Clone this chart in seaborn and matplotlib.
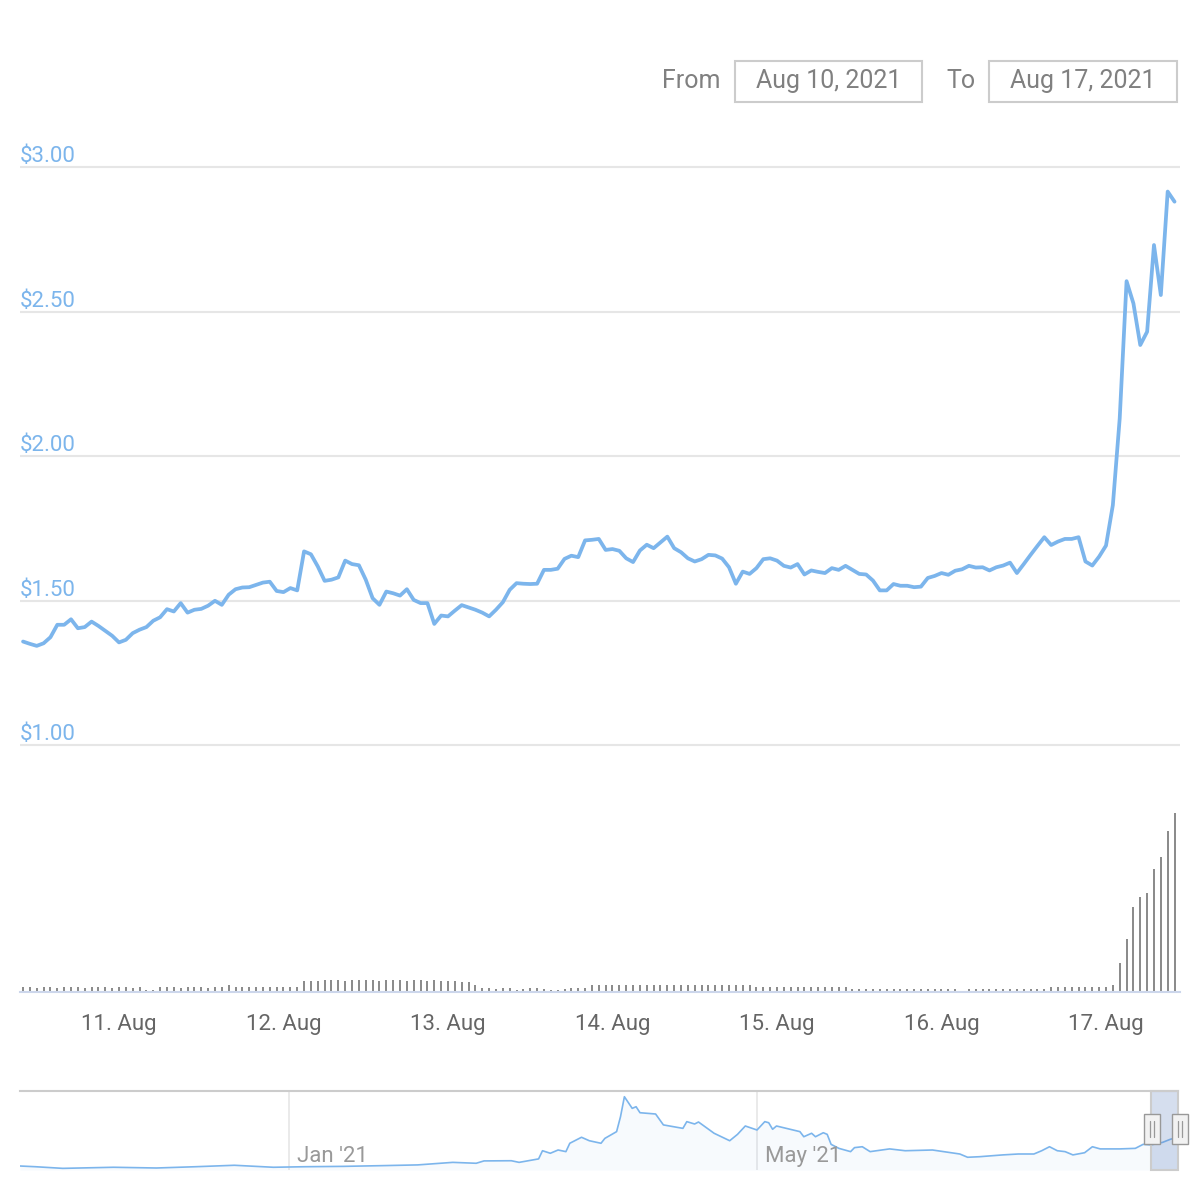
import pandas as pd
import matplotlib
matplotlib.use('Agg')
import matplotlib.pyplot as plt
import matplotlib.dates as mdates
from matplotlib.patches import Rectangle
from matplotlib.lines import Line2D
import seaborn as sns

# --- hourly price, Aug 10 10:00 -> Aug 17 10:00 ---
price = [
    1.358, 1.350, 1.343, 1.352, 1.373, 1.416, 1.416, 1.435, 1.404, 1.408,
    1.427, 1.412, 1.395, 1.378, 1.355, 1.364, 1.387, 1.399, 1.408, 1.430,
    1.442, 1.470, 1.462, 1.491, 1.458, 1.468, 1.471, 1.482, 1.499, 1.485,
    1.520, 1.539, 1.545, 1.546, 1.554, 1.562, 1.565, 1.533, 1.529, 1.543,
    1.535, 1.670, 1.660, 1.618, 1.568, 1.572, 1.580, 1.638, 1.626, 1.622,
    1.572, 1.508, 1.485, 1.531, 1.525, 1.517, 1.539, 1.502, 1.491, 1.491,
    1.419, 1.448, 1.445, 1.465, 1.484, 1.476, 1.468, 1.458, 1.445, 1.468,
    1.494, 1.537, 1.560, 1.558, 1.557, 1.558, 1.606, 1.606, 1.610, 1.644,
    1.655, 1.650, 1.708, 1.710, 1.713, 1.675, 1.678, 1.672, 1.646, 1.633,
    1.673, 1.693, 1.681, 1.701, 1.721, 1.681, 1.667, 1.646, 1.635, 1.643,
    1.658, 1.656, 1.645, 1.615, 1.558, 1.600, 1.592, 1.612, 1.643, 1.646,
    1.638, 1.620, 1.614, 1.626, 1.590, 1.604, 1.599, 1.595, 1.612, 1.606,
    1.620, 1.606, 1.592, 1.590, 1.569, 1.535, 1.535, 1.557, 1.551, 1.551,
    1.546, 1.548, 1.578, 1.585, 1.595, 1.589, 1.603, 1.608, 1.620, 1.614,
    1.615, 1.604, 1.615, 1.621, 1.631, 1.595, 1.626, 1.658, 1.689, 1.719,
    1.692, 1.704, 1.713, 1.713, 1.719, 1.635, 1.621, 1.652, 1.690, 1.830,
    2.130, 2.605, 2.528, 2.384, 2.430, 2.730, 2.557, 2.915, 2.880,
]

# hourly volume (M USD)
volume = (
    [0.50, 0.50, 0.45, 0.50, 0.50, 0.45, 0.50, 0.50, 0.50, 0.45,
     0.50, 0.50, 0.50, 0.45, 0.50, 0.50, 0.45, 0.50]
    + [0.23, 0.23]
    + [0.47, 0.47, 0.47, 0.45, 0.47, 0.47, 0.47, 0.45, 0.47, 0.47]
    + [0.67]
    + [0.55, 0.55, 0.55, 0.55, 0.55, 0.55, 0.55, 0.55, 0.55, 0.55]
    + [1.15, 1.15, 1.15, 1.20, 1.20, 1.20, 1.15, 1.20, 1.20, 1.20,
       1.20, 1.15, 1.20, 1.20, 1.20, 1.15, 1.20, 1.20, 1.15, 1.20,
       1.15, 1.10, 1.10]
    + [1.00, 1.00]
    + [0.70]
    + [0.40, 0.38, 0.35, 0.40, 0.38, 0.23, 0.35, 0.38, 0.40, 0.35,
       0.23, 0.23, 0.35, 0.40, 0.40, 0.45]
    + [0.70, 0.70, 0.70, 0.70, 0.70, 0.70, 0.70, 0.70, 0.70, 0.70,
       0.70, 0.70, 0.70, 0.70, 0.70, 0.70, 0.70, 0.70, 0.70, 0.70,
       0.70, 0.70, 0.70, 0.70]
    + [0.50, 0.50, 0.50, 0.50, 0.50, 0.50, 0.50, 0.50, 0.50, 0.50,
       0.50, 0.50, 0.50, 0.50]
    + [0.27, 0.27, 0.27, 0.27, 0.27, 0.27, 0.27, 0.27, 0.27, 0.27,
       0.27, 0.27, 0.27, 0.27, 0.27, 0.27, 0.15, 0.27, 0.27, 0.27,
       0.27, 0.27, 0.27, 0.27, 0.27, 0.27, 0.27, 0.27, 0.27]
    + [0.50, 0.50, 0.50, 0.50, 0.50, 0.50, 0.50, 0.50, 0.50]
    + [0.70, 2.87, 5.27, 8.47, 9.47, 9.87, 12.27, 13.47, 16.10, 17.87]
)

times = pd.date_range('2021-08-10 10:00', periods=len(price), freq='h')

x_ticks = ['2021-08-11', '2021-08-12', '2021-08-13', '2021-08-14',
           '2021-08-15', '2021-08-16', '2021-08-17']
x_labels = ['11. Aug', '12. Aug', '13. Aug', '14. Aug', '15. Aug', '16. Aug', '17. Aug']
y_ticks = [1.0, 1.5, 2.0, 2.5, 3.0]
y_labels = ['$1.00', '$1.50', '$2.00', '$2.50', '$3.00']

# --- navigator (longer history) ---
nav_dates = [
    '2020-10-24', '2020-10-28', '2020-11-04', '2020-11-17', '2020-11-28', '2020-12-08',
    '2020-12-18', '2020-12-28', '2021-01-05', '2021-01-15', '2021-01-25', '2021-02-03',
    '2021-02-12', '2021-02-18', '2021-02-20', '2021-02-27', '2021-03-01', '2021-03-06',
    '2021-03-07', '2021-03-09', '2021-03-11', '2021-03-13', '2021-03-14', '2021-03-17',
    '2021-03-19', '2021-03-22', '2021-03-23', '2021-03-26', '2021-03-27', '2021-03-28',
    '2021-03-30', '2021-03-31', '2021-04-01', '2021-04-05', '2021-04-07', '2021-04-12',
    '2021-04-13', '2021-04-15', '2021-04-16', '2021-04-20', '2021-04-24', '2021-04-26',
    '2021-04-28', '2021-05-01', '2021-05-03', '2021-05-04', '2021-05-05', '2021-05-06',
    '2021-05-12', '2021-05-13', '2021-05-15', '2021-05-16', '2021-05-18', '2021-05-19',
    '2021-05-20', '2021-05-22', '2021-05-25', '2021-05-26', '2021-05-28', '2021-05-30',
    '2021-06-04', '2021-06-08', '2021-06-15', '2021-06-22', '2021-06-24', '2021-06-27',
    '2021-07-03', '2021-07-07', '2021-07-11', '2021-07-13', '2021-07-15', '2021-07-17',
    '2021-07-19', '2021-07-21', '2021-07-24', '2021-07-26', '2021-07-28', '2021-08-02',
    '2021-08-06', '2021-08-08', '2021-08-10', '2021-08-13', '2021-08-15', '2021-08-17',
]
nav_price = [
    0.21, 0.17, 0.08, 0.14, 0.10, 0.17,
    0.25, 0.14, 0.17, 0.19, 0.23, 0.27,
    0.41, 0.36, 0.49, 0.50, 0.41, 0.60,
    1.05, 0.91, 1.09, 1.00, 1.46, 1.79,
    1.60, 1.46, 1.73, 2.10, 2.92, 4.02,
    3.38, 3.47, 3.14, 3.07, 2.47, 2.28,
    2.65, 2.52, 2.63, 2.01, 1.60, 1.95,
    2.41, 2.19, 2.65, 2.59, 2.23, 2.41,
    2.10, 1.82, 2.01, 1.82, 2.04, 1.95,
    1.40, 1.18, 1.00, 1.22, 1.27, 1.00,
    1.15, 1.05, 1.09, 0.87, 0.69, 0.72,
    0.82, 0.87, 0.87, 1.05, 1.27, 1.05,
    1.00, 0.82, 0.94, 1.27, 1.15, 1.15,
    1.18, 1.40, 1.37, 1.51, 1.68, 1.79,
]
nav_ticks = ['2021-01-01', '2021-05-01']
nav_labels = ["Jan '21", "May '21"]

df = pd.DataFrame({'time': times, 'price': price, 'volume': volume})
nav = pd.DataFrame({'date': pd.to_datetime(nav_dates), 'price': nav_price})

sns.set_theme(style='white')
plt.rcParams['font.family'] = ['Roboto', 'DejaVu Sans']

BLUE = '#7cb5ec'
W = H = 1200.0


def box(x0, y0, x1, y1):
    return [x0 / W, 1 - y1 / H, (x1 - x0) / W, (y1 - y0) / H]


fig = plt.figure(figsize=(12, 12), dpi=100)
fig.patch.set_facecolor('white')

ax = fig.add_axes(box(20, 150, 1180, 760))
axv = fig.add_axes(box(20, 800, 1180, 992))
axn = fig.add_axes(box(20, 1091, 1178, 1170))

day = pd.Timestamp('2021-08-11')
x_left = day - pd.Timedelta(days=99 / 164.5)
x_right = pd.Timestamp('2021-08-17') + pd.Timedelta(days=74 / 164.5)

# --- price line ---
sns.lineplot(data=df, x='time', y='price', ax=ax, color=BLUE, linewidth=2.7)
ax.set_xlim(mdates.date2num(x_left), mdates.date2num(x_right))
ax.set_ylim(1 - 15 / 289, 3 + 17 / 289)
ax.set_yticks(y_ticks)
ax.set_xticks([])
ax.yaxis.grid(True, color='#e6e6e6', linewidth=1.5)
ax.tick_params(left=False, labelleft=False, bottom=False)
ax.set_xlabel('')
ax.set_ylabel('')
for s in ax.spines.values():
    s.set_visible(False)
for v, lab in zip(y_ticks, y_labels):
    ax.annotate(lab, xy=(0, v), xycoords=('axes fraction', 'data'),
                xytext=(0, 3.5), textcoords='offset points',
                ha='left', va='baseline', fontsize=16, color=BLUE)

# --- volume bars ---
axv.bar(df['time'], df['volume'], width=2 / 164.5, color='#8c8c8c', linewidth=0)
axv.set_xlim(mdates.date2num(x_left), mdates.date2num(x_right))
axv.set_ylim(0, 19.2)
axv.set_yticks([])
axv.set_xticks(mdates.date2num(pd.to_datetime(x_ticks)))
axv.set_xticklabels(x_labels)
axv.tick_params(axis='x', length=14, width=1.5, color='#ccd6eb',
                labelsize=16, labelcolor='#666666', pad=2, direction='out')
for name, s in axv.spines.items():
    s.set_visible(name == 'bottom')
axv.spines['bottom'].set_color('#ccd6eb')
axv.spines['bottom'].set_linewidth(1.5)

# --- navigator ---
axn.fill_between(nav['date'], nav['price'], -0.01, color=BLUE, alpha=0.06, linewidth=0)
sns.lineplot(data=nav, x='date', y='price', ax=axn, color=BLUE, linewidth=1.2)
jan1 = pd.Timestamp('2021-01-01')
axn.set_xlim(mdates.date2num(jan1 + pd.Timedelta(days=(20 - 289) / 3.9)),
             mdates.date2num(jan1 + pd.Timedelta(days=(1178 - 289) / 3.9)))
axn.set_ylim(-0.01, 4.335)
axn.set_xticks(mdates.date2num(pd.to_datetime(nav_ticks)))
axn.xaxis.grid(True, color='#e6e6e6', linewidth=1.2)
axn.set_yticks([])
axn.tick_params(bottom=False, labelbottom=False, left=False)
axn.set_xlabel('')
axn.set_ylabel('')
for name, s in axn.spines.items():
    s.set_visible(name == 'top')
axn.spines['top'].set_color('#cccccc')
axn.spines['top'].set_linewidth(1.5)
for d, lab in zip(nav_ticks, nav_labels):
    axn.annotate(lab, xy=(mdates.date2num(pd.Timestamp(d)), 0.1),
                 xycoords=('data', 'axes fraction'), xytext=(6, 0),
                 textcoords='offset points', ha='left', va='baseline',
                 fontsize=16, color='#999999')

# selected range mask
fx0 = (1151 - 20) / 1158
axn.add_patch(Rectangle((fx0, 0), 1 - fx0, 1, transform=axn.transAxes,
                        facecolor=(102 / 255, 133 / 255, 194 / 255, 0.27),
                        edgecolor='#cccccc', linewidth=1.5, clip_on=False, zorder=3))

# navigator handles
for hx in (1144, 1172):
    fig.add_artist(Rectangle((hx / W, 1 - 1144 / H), 16 / W, 30 / H,
                             transform=fig.transFigure, facecolor='#f2f2f2',
                             edgecolor='#999999', linewidth=1.0, zorder=5))
    for dx in (6, 10):
        fig.add_artist(Line2D([(hx + dx) / W] * 2, [1 - 1121 / H, 1 - 1137 / H],
                              transform=fig.transFigure, color='#999999',
                              linewidth=0.9, zorder=6))

# --- date range inputs ---
fig.text(721 / W, 1 - 81 / H, 'From', ha='right', va='center', fontsize=18, color='#808080')
fig.text(976 / W, 1 - 81 / H, 'To', ha='right', va='center', fontsize=18, color='#808080')
for x0, x1, lab in ((735, 922, 'Aug 10, 2021'), (989, 1177, 'Aug 17, 2021')):
    fig.add_artist(Rectangle((x0 / W, 1 - 102 / H), (x1 - x0) / W, 41 / H,
                             transform=fig.transFigure, facecolor='white',
                             edgecolor='#cccccc', linewidth=1.5))
    fig.text((x0 + x1) / 2 / W, 1 - 81 / H, lab, ha='center', va='center',
             fontsize=18, color='#808080')

fig.savefig('out.png', dpi=100)
